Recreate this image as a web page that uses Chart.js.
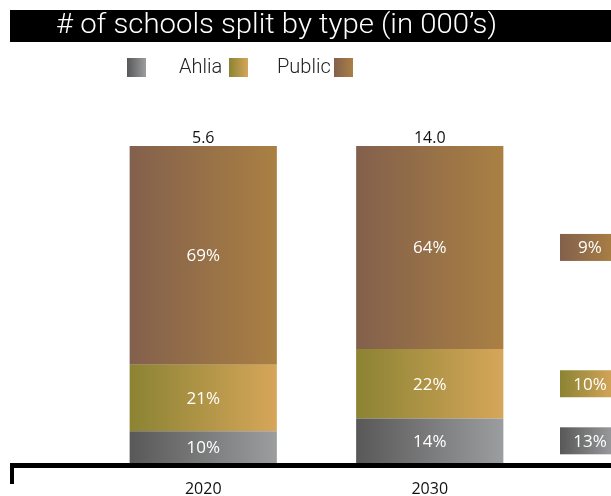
<!DOCTYPE html>
<html>
<head>
<meta charset="utf-8">
<script src="https://cdn.jsdelivr.net/npm/chart.js@4/dist/chart.umd.min.js"></script>
<style>
  html, body { margin: 0; padding: 0; background: #fff; }
  #wrap { position: relative; width: 611px; height: 496px; overflow: hidden; }
  #title { position: absolute; left: 10px; top: 10px; width: 601px; height: 32px; background: #000; }
  #title span { position: absolute; left: 46px; top: -2px; color: #fff; font: 300 27px Roboto, sans-serif; white-space: nowrap; transform-origin: 0 50%; }
  .leg { position: absolute; top: 58px; width: 19px; height: 19px; }
  .legtxt { position: absolute; top: 54px; font: 300 20px Roboto, sans-serif; color: #222; }
  canvas { position: absolute; left: 0; top: 0; }
</style>
</head>
<body>
<div id="wrap">
  <canvas id="chart" width="611" height="496"></canvas>
  <div id="title"><span id="titletxt"># of schools split by type (in 000’s)</span></div>
  <div id="legend"></div>
</div>
<script>
const years = ['2020', '2030'];
const seriesNames = ['', 'Ahlia', 'Public'];
const govShare = [10, 14];
const ahliaShare = [21, 22];
const publicShare = [69, 64];
const totals = ['5.6', '14.0'];
const growth = ['13%', '10%', '9%'];

const gradStops = [
  ['#585858', '#9c9d9f'],
  ['#8b8333', '#d6a65a'],
  ['#83604c', '#aa8043']
];

// fit title to its width in the reference
const tt = document.getElementById('titletxt');
tt.style.transform = 'scaleX(' + (441 / tt.getBoundingClientRect().width) + ')';

// legend: label before box, like the original
const legend = document.getElementById('legend');
const legPos = [
  { box: 127, txt: null },
  { box: 229, txt: 179 },
  { box: 334, txt: 277 }
];
seriesNames.forEach((name, i) => {
  const b = document.createElement('div');
  b.className = 'leg';
  b.style.left = legPos[i].box + 'px';
  b.style.background = 'linear-gradient(to right,' + gradStops[i][0] + ',' + gradStops[i][1] + ')';
  legend.appendChild(b);
  if (name) {
    const t = document.createElement('div');
    t.className = 'legtxt';
    t.style.left = legPos[i].txt + 'px';
    t.textContent = name;
    legend.appendChild(t);
  }
});

function barFill(i) {
  return (ctx) => {
    const chart = ctx.chart;
    const xs = chart.scales.x;
    if (!xs || !chart.chartArea) return gradStops[i][1];
    const cx = xs.getPixelForValue(ctx.dataIndex);
    const hw = xs.width / years.length * 0.65 / 2;
    const g = chart.ctx.createLinearGradient(cx - hw, 0, cx + hw, 0);
    g.addColorStop(0, gradStops[i][0]);
    g.addColorStop(1, gradStops[i][1]);
    return g;
  };
}

const extras = {
  id: 'extras',
  afterDatasetsDraw(chart) {
    const { ctx, chartArea } = chart;
    ctx.save();
    // segment labels
    ctx.font = '17px "Open Sans", sans-serif';
    ctx.textAlign = 'center';
    ctx.textBaseline = 'middle';
    chart.data.datasets.forEach((ds, di) => {
      chart.getDatasetMeta(di).data.forEach((bar, j) => {
        const mid = (bar.y + bar.base) / 2;
        ctx.fillStyle = '#fff';
        ctx.fillText(ds.data[j] + '%', bar.x, mid + 1);
      });
    });
    // totals
    const top = chart.getDatasetMeta(chart.data.datasets.length - 1).data;
    ctx.font = '16px "Open Sans", sans-serif';
    ctx.fillStyle = '#111';
    ctx.textBaseline = 'alphabetic';
    top.forEach((bar, j) => ctx.fillText(totals[j], bar.x, bar.y - 3));
    // growth boxes next to 2030
    ctx.font = '17px "Open Sans", sans-serif';
    chart.data.datasets.forEach((ds, di) => {
      const bar = chart.getDatasetMeta(di).data[years.length - 1];
      const cy = (bar.y + bar.base) / 2;
      const g = ctx.createLinearGradient(560, 0, 615, 0);
      g.addColorStop(0, gradStops[di][0]);
      g.addColorStop(1, gradStops[di][1]);
      ctx.fillStyle = g;
      ctx.fillRect(560, cy - 13.5, 60, 27);
      ctx.fillStyle = '#fff';
      ctx.textBaseline = 'middle';
      ctx.fillText(growth[di], 590, cy + 1);
    });
    // baseline axis with left tick
    ctx.fillStyle = '#000';
    ctx.fillRect(10, chartArea.bottom, 601, 5);
    ctx.fillRect(10, chartArea.bottom, 4, 21);
    ctx.restore();
  }
};

new Chart(document.getElementById('chart'), {
  type: 'bar',
  data: {
    labels: years,
    datasets: [
      { label: seriesNames[0], data: govShare, backgroundColor: barFill(0) },
      { label: seriesNames[1], data: ahliaShare, backgroundColor: barFill(1) },
      { label: seriesNames[2], data: publicShare, backgroundColor: barFill(2) }
    ]
  },
  options: {
    responsive: false,
    animation: false,
    layout: { padding: { left: 90, right: 68, top: 146, bottom: 0 } },
    datasets: { bar: { barPercentage: 0.65, categoryPercentage: 1, borderWidth: 0 } },
    plugins: { legend: { display: false }, tooltip: { enabled: false } },
    scales: {
      x: {
        stacked: true,
        grid: { display: false, drawTicks: false },
        border: { display: false },
        ticks: { color: '#111', font: { family: '"Open Sans", sans-serif', size: 16 }, padding: 17 },
        afterFit: (scale) => { scale.height = 33; }
      },
      y: { stacked: true, min: 0, max: 100, display: false }
    }
  },
  plugins: [extras]
});
</script>
</body>
</html>
